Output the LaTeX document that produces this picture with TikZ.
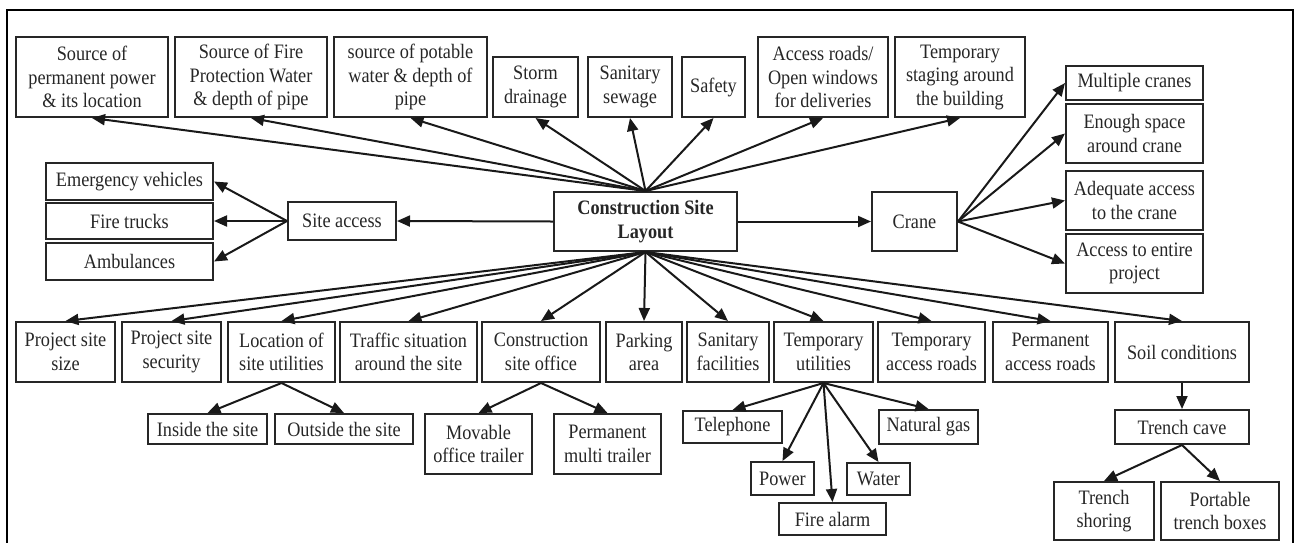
\documentclass[tikz,border=0pt]{standalone}
\usepackage{fontspec}
\setmainfont{Liberation Serif}[FakeStretch=0.89]
\usetikzlibrary{arrows.meta}
\tikzset{
  bx/.style={draw=black!85, line width=2pt, inner sep=0pt, align=center,
    font=\fontsize{20.5}{23.5}\selectfont, text=black!85},
  arr/.style={-{Triangle[length=13pt,width=11pt]}, line width=2pt, draw=black!90},
  frame/.style={line width=2.8pt, draw=black}
}
\newcommand\bx[7][]{\node[bx,#1,minimum width={(#5)-(#3)},minimum height={(#6)-(#4)}] (#2) at ({((#3)+(#5))/2},{((#4)+(#6))/2}) {#7};}
\begin{document}
\begin{tikzpicture}[x=1pt,y=-1pt]
\useasboundingbox (0,0) rectangle (1295,542);
\draw[frame] (7,545) -- (7,10) -- (1293,10) -- (1293,545);
% central
\bx[font=\fontsize{20.5}{23.5}\selectfont\bfseries]{c}{554}{192}{737}{251}{Construction Site\\Layout}
% top row
\bx{t1}{16}{37}{168}{117}{Source of\\permanent power\\\& its location}
\bx{t2}{175}{37}{327}{117}{Source of Fire\\Protection Water\\\& depth of pipe}
\bx{t3}{334}{37}{487}{117}{source of potable\\water \& depth of\\pipe}
\bx{t4}{493}{57}{578}{117}{Storm\\drainage}
\bx{t5}{588}{57}{672}{117}{Sanitary\\sewage}
\bx{t6}{682}{57}{745}{117}{Safety}
\bx{t7}{758}{37}{888}{117}{Access roads/\\Open windows\\for deliveries}
\bx{t8}{895}{37}{1025}{117}{Temporary\\staging around\\the building}
% left
\bx{ev}{46}{163}{213}{200}{Emergency vehicles}
\bx{ft}{46}{203}{213}{239}{Fire trucks}
\bx{am}{46}{243}{213}{280}{Ambulances}
\bx{sa}{288}{202}{396}{240}{Site access}
% right
\bx{cr}{872}{192}{957}{251}{Crane}
\bx{mc}{1066}{66}{1203}{100}{Multiple cranes}
\bx{es}{1066}{104}{1203}{163}{Enough space\\around crane}
\bx{aa}{1066}{171}{1203}{230}{Adequate access\\to the crane}
\bx{ae}{1066}{234}{1203}{293}{Access to entire\\project}
% bottom row
\bx{b1}{16}{322}{115}{382}{Project site\\size}
\bx{b2}{122}{322}{221}{382}{Project site\\security}
\bx{b3}{228}{322}{335}{382}{Location of\\site utilities}
\bx{b4}{340}{322}{477}{382}{Traffic situation\\around the site}
\bx{b5}{482}{322}{600}{382}{Construction\\site office}
\bx{b6}{606}{322}{682}{382}{Parking\\area}
\bx{b7}{687}{322}{769}{382}{Sanitary\\facilities}
\bx{b8}{774}{322}{873}{382}{Temporary\\utilities}
\bx{b9}{878}{322}{985}{382}{Temporary\\access roads}
\bx{b10}{993}{322}{1108}{382}{Permanent\\access roads}
\bx{b11}{1115}{322}{1249}{382}{Soil conditions}
% sub nodes
\bx{in}{148}{414}{267}{444}{Inside the site}
\bx{out}{275}{414}{413}{444}{Outside the site}
\bx{mov}{425}{414}{532}{474}{Movable\\office trailer}
\bx{perm}{554}{414}{661}{474}{Permanent\\multi trailer}
\bx{tel}{683}{411}{782}{443}{Telephone}
\bx{pow}{751}{462}{814}{495}{Power}
\bx{fire}{779}{503}{886}{535}{Fire alarm}
\bx{wat}{847}{463}{910}{495}{Water}
\bx{gas}{879}{410}{978}{444}{Natural gas}
\bx{tc}{1115}{410}{1249}{444}{Trench cave}
\bx{ts}{1054}{482}{1154}{540}{Trench\\shoring}
\bx{ptb}{1161}{482}{1279}{540}{Portable\\trench boxes}
% arrows top
\foreach \n in {t1,t2,t3,t4,t5,t6,t7,t8} \draw[arr] (c.north) -- (\n.south);
% arrows bottom
\foreach \n in {b1,b2,b3,b4,b5,b6,b7,b8,b9,b10,b11} \draw[arr] (c.south) -- (\n.north);
% side
\draw[arr] (c.west) -- (sa.east);
\draw[arr] (c.east) -- (cr.west);
\foreach \n in {ev,ft,am} \draw[arr] (sa.west) -- (\n.east);
\foreach \n in {mc,es,aa,ae} \draw[arr] (cr.east) -- (\n.west);
% sub arrows
\draw[arr] (b3.south) -- (in.north);
\draw[arr] (b3.south) -- (out.north);
\draw[arr] (b5.south) -- (mov.north);
\draw[arr] (b5.south) -- (perm.north);
\foreach \n in {tel,pow,fire,wat,gas} \draw[arr] (b8.south) -- (\n.north);
\draw[arr] (b11.south) -- (tc.north);
\draw[arr] (tc.south) -- (ts.north);
\draw[arr] (tc.south) -- (ptb.north);
\end{tikzpicture}
\end{document}
